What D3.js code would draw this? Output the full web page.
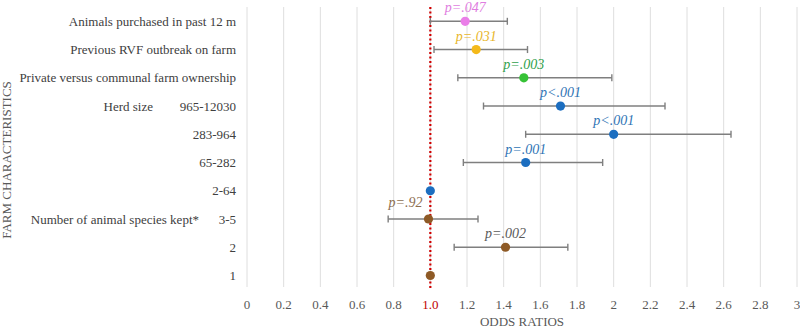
<!DOCTYPE html>
<html>
<head>
	<meta charset="utf-8">
	<title>Odds ratios</title>
	<style>
		body { margin: 0; background: #fff; }
		svg text { font-family: "Liberation Serif", "Times New Roman", Times, serif; }
	</style>
</head>
<body>
	<svg width="800" height="328" font-family="Liberation Serif, Times New Roman, serif"></svg>
<script src="https://cdn.jsdelivr.net/npm/d3@7"></script>
<script>
	// 数据
	const rows = ["Animals purchased in past 12 m", "Previous RVF outbreak on farm",
		"Private versus communal farm ownership", "965-12030", "283-964", "65-282",
		"2-64", "3-5", "2", "1"]
	const groupLabels = [null, null, null, "Herd size", null, null, null, "Number of animal species kept*", null, null]
	const oddsRatio = [1.19, 1.25, 1.51, 1.71, 2.0, 1.52, 1.0, 0.99, 1.41, 1.0]
	const lower = [1.0, 1.02, 1.15, 1.29, 1.52, 1.18, null, 0.77, 1.13, null]
	const upper = [1.42, 1.53, 1.99, 2.28, 2.64, 1.94, null, 1.26, 1.75, null]
	const pValues = ["p=.047", "p=.031", "p=.003", "p<.001", "p<.001", "p=.001", null, "p=.92", "p=.002", null]
	const xTicks = [0, 0.2, 0.4, 0.6, 0.8, 1.0, 1.2, 1.4, 1.6, 1.8, 2, 2.2, 2.4, 2.6, 2.8, 3]

	// 颜色
	const dotColor = ["#ea7ee8", "#f4b919", "#36c236", "#1c6ec0", "#1c6ec0", "#1c6ec0", "#1c6ec0", "#8e5a26", "#8e5a26", "#8e5a26"]
	const pColor = ["#e07de0", "#e8b62a", "#2f9f4c", "#2f74b5", "#2f74b5", "#2f74b5", null, "#8d6e50", "#595959", null]

	const data = rows.map((r, i) => ({
		row: r, group: groupLabels[i], or: oddsRatio[i], lo: lower[i], hi: upper[i],
		p: pValues[i], dot: dotColor[i], pc: pColor[i]
	}))

	const x = d3.scaleLinear().domain([0, 3]).range([247, 797])
	const y = d3.scalePoint().domain(rows).range([21.3, 275.5])

	const svg = d3.select("svg")
	const serif = "'Liberation Serif', 'Times New Roman', serif"

	// 网格线
	svg.append("g").selectAll("line").data(xTicks).enter().append("line")
		.attr("x1", d => x(d)).attr("x2", d => x(d))
		.attr("y1", 7).attr("y2", 287)
		.attr("stroke", "#dedede").attr("stroke-width", 1)

	// x轴刻度
	svg.append("g").selectAll("text").data(xTicks).enter().append("text")
		.attr("x", d => x(d)).attr("y", 309)
		.attr("text-anchor", "middle")
		.style("font-family", serif).style("font-size", "13px")
		.attr("fill", d => d === 1 ? "#c00000" : "#595959")
		.text(d => d === 1 ? "1.0" : d3.format("~g")(d))

	// 轴标题
	svg.append("text")
		.attr("x", (x(0) + x(3)) / 2).attr("y", 326)
		.attr("text-anchor", "middle")
		.style("font-family", serif).style("font-size", "13px").attr("fill", "#595959")
		.text("ODDS RATIOS")

	svg.append("text")
		.attr("transform", "translate(11," + 160 + ") rotate(-90)")
		.attr("text-anchor", "middle")
		.style("font-family", serif).style("font-size", "13px").attr("fill", "#595959")
		.text("FARM CHARACTERISTICS")

	// y轴标签
	svg.append("g").selectAll("text").data(data).enter().append("text")
		.attr("x", 236).attr("y", d => y(d.row) + 4.5)
		.attr("text-anchor", "end")
		.style("font-family", serif).style("font-size", "13px").attr("fill", "#404040")
		.text(d => d.row)

	svg.append("g").selectAll("text").data(data.filter(d => d.group)).enter().append("text")
		.attr("x", d => d.group === "Herd size" ? 153 : 199)
		.attr("y", d => y(d.row) + 4.5)
		.attr("text-anchor", "end")
		.style("font-family", serif).style("font-size", "13px").attr("fill", "#404040")
		.text(d => d.group)

	// 参考线 OR = 1
	svg.append("line")
		.attr("x1", x(1)).attr("x2", x(1))
		.attr("y1", 7).attr("y2", 290)
		.attr("stroke", "#d00000").attr("stroke-width", 2.2)
		.attr("stroke-dasharray", "2,2.5")

	// 置信区间
	const ci = data.filter(d => d.lo != null)
	const g = svg.append("g").attr("stroke", "#7f7f7f").attr("stroke-width", 1.4)
	g.selectAll(".bar").data(ci).enter().append("line")
		.attr("x1", d => x(d.lo)).attr("x2", d => x(d.hi))
		.attr("y1", d => y(d.row)).attr("y2", d => y(d.row))
	g.selectAll(".capL").data(ci).enter().append("line")
		.attr("x1", d => x(d.lo)).attr("x2", d => x(d.lo))
		.attr("y1", d => y(d.row) - 3.5).attr("y2", d => y(d.row) + 3.5)
	g.selectAll(".capR").data(ci).enter().append("line")
		.attr("x1", d => x(d.hi)).attr("x2", d => x(d.hi))
		.attr("y1", d => y(d.row) - 3.5).attr("y2", d => y(d.row) + 3.5)

	// 点
	svg.append("g").selectAll("circle").data(data).enter().append("circle")
		.attr("cx", d => x(d.or)).attr("cy", d => y(d.row))
		.attr("r", 4.6)
		.attr("fill", d => d.dot)

	// p值 -- 不显著的放在左边
	svg.append("g").selectAll("text").data(data.filter(d => d.p)).enter().append("text")
		.attr("x", d => d.lo < 1 ? x(d.or) - 6 : x(d.or))
		.attr("y", d => y(d.row) - (d.lo < 1 ? 12 : 9))
		.attr("text-anchor", d => d.lo < 1 ? "end" : "middle")
		.style("font-family", serif).style("font-size", "14px").style("font-style", "italic")
		.attr("fill", d => d.pc)
		.text(d => d.p)
</script>
</body>
</html>
